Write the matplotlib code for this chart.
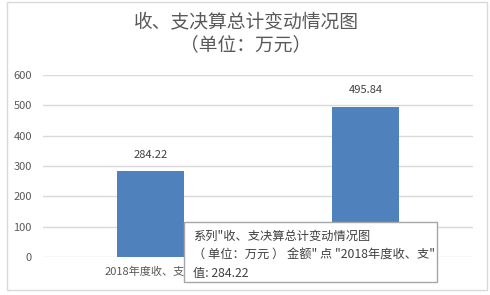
import matplotlib
matplotlib.use("Agg")
import matplotlib.pyplot as plt
from matplotlib.patches import Rectangle

plt.rcParams['font.family'] = ['Noto Sans CJK SC', 'DejaVu Sans']

# data
categories = ["2018年度收、支出", "2019年度收、支出"]
values = [284.22, 495.84]
yticks = [0, 100, 200, 300, 400, 500, 600]
title = "收、支决算总计变动情况图"
subtitle = "（单位：万元）"
tooltip_lines = ['系列"收、支决算总计变动情况图',
                 '（ 单位：万元 ） 金额" 点 "2018年度收、支"',
                 '值: 284.22']

W, H = 490, 295
fig = plt.figure(figsize=(W / 100, H / 100), dpi=100)

def px(x, y):
    # pixel coords (top-left origin) -> figure fraction
    return x / W, 1 - y / H

# outer chart border
fig.patches.append(Rectangle(px(7, 290), 480 / W, 288 / H, transform=fig.transFigure,
                             fill=False, edgecolor="#d9d9d9", linewidth=1))

ax = fig.add_axes([43 / W, 1 - 257 / H, 430 / W, 182 / H])
x = list(range(len(categories)))
bars = ax.bar(x, values, width=0.31, color="#4f81bd", zorder=3)
ax.set_xlim(-0.5, len(categories) - 0.5)
ax.set_ylim(0, 600)
ax.set_yticks(yticks)
ax.set_xticks(x)
ax.set_xticklabels(categories)
ax.grid(axis="y", color="#d9d9d9", linewidth=1, zorder=0)
for s in ax.spines.values():
    s.set_visible(False)
ax.tick_params(length=0, labelsize=8, colors="#595959", pad=8)
ax.tick_params(axis="x", pad=7)

for b, v in zip(bars, values):
    ax.annotate(f"{v:.2f}", (b.get_x() + b.get_width() / 2, v), xytext=(0, 8),
                textcoords="offset points", ha="center", va="bottom",
                fontsize=8, color="#404040")

fig.text(*px(246, 22), title, ha="center", va="center", fontsize=13.5,
         color="#595959", fontweight="light")
fig.text(*px(246, 45), subtitle, ha="center", va="center", fontsize=13.5,
         color="#595959", fontweight="light")

# hover tooltip box
fig.patches.append(Rectangle(px(184, 282), 253 / W, 60 / H, transform=fig.transFigure,
                             facecolor="white", edgecolor="#a6a6a6", linewidth=1, zorder=10))
for i, line in enumerate(tooltip_lines):
    fig.text(*px(193, 236 + i * 18.5), line, ha="left", va="center", fontsize=8.8,
             color="#404040", zorder=11)

fig.savefig("out.png", dpi=100)
